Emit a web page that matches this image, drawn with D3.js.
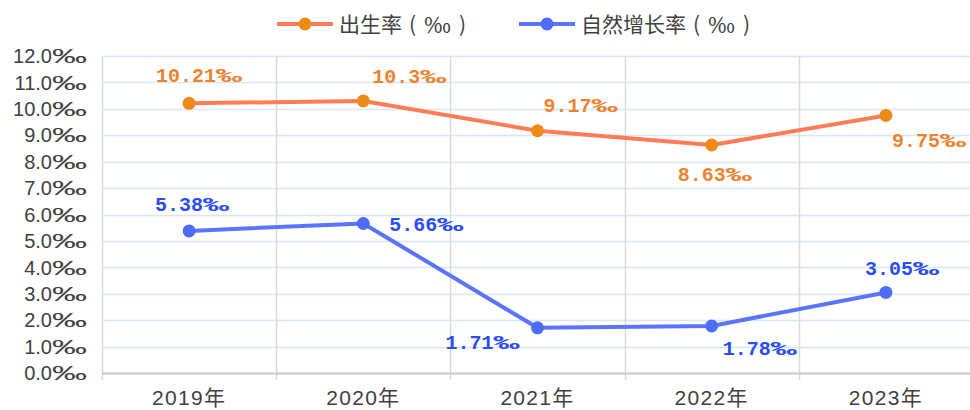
<!DOCTYPE html>
<html>
<head>
<meta charset="utf-8">
<script src="https://cdn.jsdelivr.net/npm/d3@7"></script>
<style>
  body { margin: 0; background: #fff; }
  svg { display: block; }
</style>
</head>
<body>
<svg id="chart"></svg>
<script>
const years = ["2019年", "2020年", "2021年", "2022年", "2023年"];
const birthRate = [10.21, 10.3, 9.17, 8.63, 9.75];
const growthRate = [5.38, 5.66, 1.71, 1.78, 3.05];
const yTicks = [0, 1, 2, 3, 4, 5, 6, 7, 8, 9, 10, 11, 12];
const seriesNames = ["出生率", "自然增长率"];

// label offsets relative to the point (dx, dy)
const birthLabelPos = [[10, -28], [46, -25], [43, -26], [3, 29], [43, 24]];
const growthLabelPos = [[3, -27], [63, 0], [-55, 14], [48, 22], [16, -25]];

const w = 970, h = 410;
const margin = {top: 56, right: -3, bottom: 37, left: 102};

const svg = d3.select("#chart").attr("width", w).attr("height", h);

const x = d3.scaleBand().domain(years).range([margin.left, w - margin.right]);
const y = d3.scaleLinear().domain([0, 12]).range([h - margin.bottom, margin.top]);

// horizontal gridlines
svg.append("g")
   .selectAll("line")
   .data(yTicks.slice(1))
   .enter()
   .append("line")
   .attr("x1", margin.left)
   .attr("x2", w - margin.right)
   .attr("y1", d => Math.round(y(d)) + 0.5)
   .attr("y2", d => Math.round(y(d)) + 0.5)
   .attr("stroke", "#dce6f1")
   .attr("stroke-width", 1.5);

// vertical gridlines at band edges
const edges = years.map(d => x(d)).concat([x(years[years.length - 1]) + x.bandwidth()]);
svg.append("g")
   .selectAll("line")
   .data(edges)
   .enter()
   .append("line")
   .attr("x1", d => Math.round(d) + 0.5)
   .attr("x2", d => Math.round(d) + 0.5)
   .attr("y1", margin.top)
   .attr("y2", h - margin.bottom + 7)
   .attr("stroke", "#d9d9d9")
   .attr("stroke-width", 1.5);

// x axis line
svg.append("line")
   .attr("x1", margin.left)
   .attr("x2", w - margin.right)
   .attr("y1", y(0) + 0.5)
   .attr("y2", y(0) + 0.5)
   .attr("stroke", "#c8c8c8")
   .attr("stroke-width", 2);

// y axis labels (the per-mille sign is drawn wide, like in the original)
const yl = svg.append("g")
   .selectAll("text")
   .data(yTicks)
   .enter()
   .append("text")
   .attr("x", 87)
   .attr("y", d => y(d))
   .attr("dy", "0.36em")
   .attr("text-anchor", "end")
   .attr("font-family", "'Liberation Sans', Arial, sans-serif")
   .attr("font-size", 20)
   .attr("fill", "#404040");
yl.append("tspan").text(d => d.toFixed(1));
yl.append("tspan")
  .attr("textLength", 35)
  .attr("lengthAdjust", "spacingAndGlyphs")
  .text("‰");

// x axis labels
svg.append("g")
   .selectAll("text")
   .data(years)
   .enter()
   .append("text")
   .attr("x", d => x(d) + x.bandwidth() / 2)
   .attr("y", 405)
   .attr("text-anchor", "middle")
   .attr("font-family", "'Liberation Sans', 'Noto Sans CJK SC', sans-serif")
   .attr("font-size", 21)
   .attr("letter-spacing", 1.3)
   .attr("fill", "#404040")
   .text(d => d);

const line = d3.line()
   .x((d, i) => x(years[i]) + x.bandwidth() / 2)
   .y(d => y(d));

function drawSeries(values, lineColor, dotColor, labelColor, pos) {
  svg.append("path")
     .datum(values)
     .attr("d", line)
     .attr("fill", "none")
     .attr("stroke", lineColor)
     .attr("stroke-width", 4)
     .attr("stroke-linejoin", "round");

  svg.append("g")
     .selectAll("circle")
     .data(values)
     .enter()
     .append("circle")
     .attr("cx", (d, i) => x(years[i]) + x.bandwidth() / 2)
     .attr("cy", d => y(d))
     .attr("r", 6.5)
     .attr("fill", dotColor);

  const lbl = svg.append("g")
     .selectAll("text")
     .data(values)
     .enter()
     .append("text")
     .attr("x", (d, i) => x(years[i]) + x.bandwidth() / 2 + pos[i][0])
     .attr("y", (d, i) => y(d) + pos[i][1])
     .attr("dy", "0.36em")
     .attr("text-anchor", "middle")
     .attr("font-family", "'Liberation Mono', 'DejaVu Sans Mono', monospace")
     .attr("font-weight", "bold")
     .attr("font-size", 20)
     .attr("fill", labelColor);
  lbl.append("tspan").text(d => String(d));
  lbl.append("tspan")
     .attr("textLength", 26)
     .attr("lengthAdjust", "spacingAndGlyphs")
     .text("‰");
}

drawSeries(birthRate, "#ff7c55", "#ee8a18", "#ec8330", birthLabelPos);
drawSeries(growthRate, "#5b74ff", "#4d6cf7", "#2a4df2", growthLabelPos);

// legend
const legend = [
  {name: seriesNames[0], x: 277, line: "#ff7c55", dot: "#ee8a18"},
  {name: seriesNames[1], x: 519, line: "#5b74ff", dot: "#4d6cf7"}
];
const lg = svg.append("g").selectAll("g").data(legend).enter().append("g");
lg.append("line")
  .attr("x1", d => d.x)
  .attr("x2", d => d.x + 56)
  .attr("y1", 24)
  .attr("y2", 24)
  .attr("stroke", d => d.line)
  .attr("stroke-width", 4);
lg.append("circle")
  .attr("cx", d => d.x + 28)
  .attr("cy", 24)
  .attr("r", 6.5)
  .attr("fill", d => d.dot);
const lt = lg.append("text")
  .attr("x", d => d.x + 62)
  .attr("y", 24)
  .attr("dy", "0.36em")
  .attr("font-family", "'Noto Sans CJK SC', sans-serif")
  .attr("font-size", 21)
  .attr("fill", "#404040");
lt.append("tspan").text(d => d.name);
lt.append("tspan").attr("dx", 7).text("(");
lt.append("tspan")
  .attr("dx", 8)
  .attr("textLength", 27)
  .attr("lengthAdjust", "spacingAndGlyphs")
  .text("‰");
lt.append("tspan").attr("dx", 8).text(")");
</script>
</body>
</html>
